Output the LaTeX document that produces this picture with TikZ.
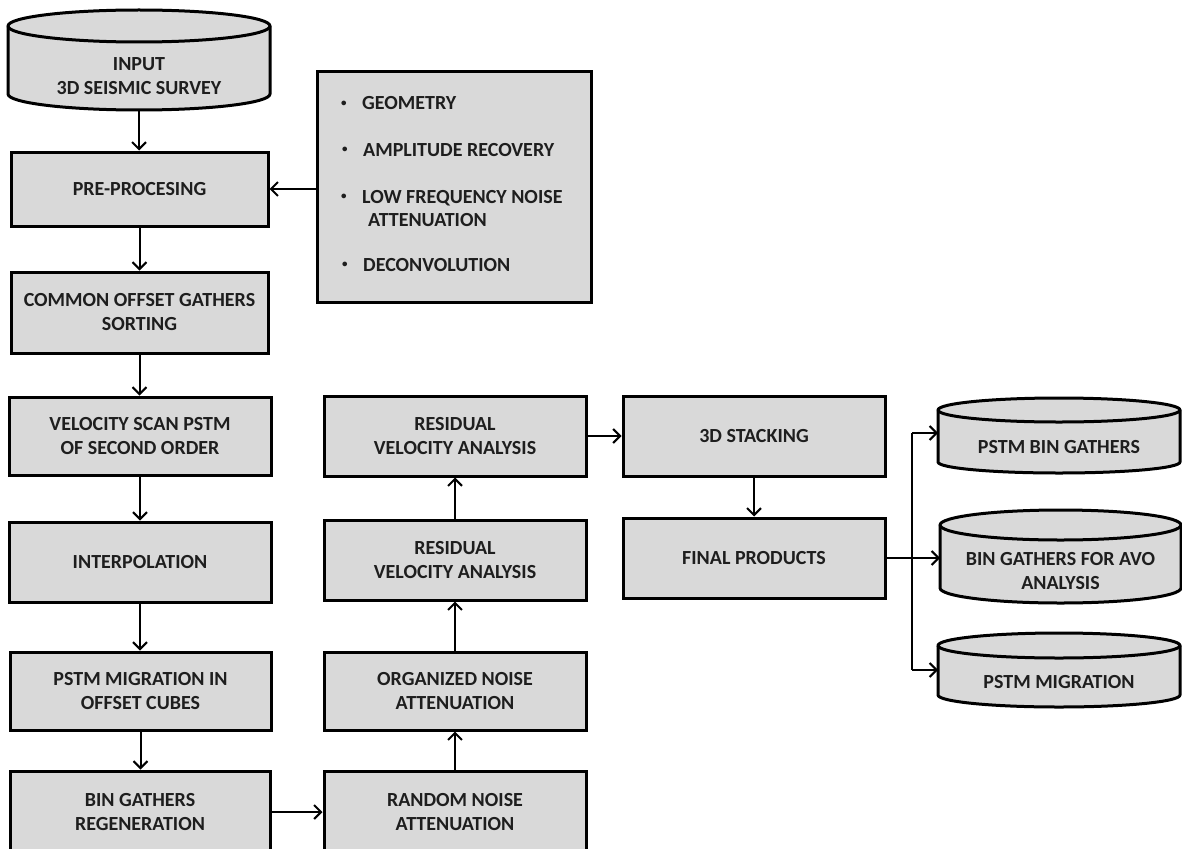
\documentclass[tikz,border=0pt]{standalone}
\usepackage{fontspec}
\setmainfont{Carlito}
\usetikzlibrary{arrows.meta}
\definecolor{boxfill}{HTML}{D9D9D9}
\definecolor{ink}{HTML}{1E1E1E}
\newcommand\bul{\makebox[21pt][l]{\raisebox{3.5pt}{\fontsize{11}{11}\selectfont\textbullet}}}
\newcommand\drumshape[6]{%
  \pgfmathsetmacro\drx{(#2-#1)/2}%
  \draw[cylbody] (#1,-#3) arc[start angle=180,end angle=0,x radius=\drx,y radius=#5]
     -- (#2,-#4) arc[start angle=0,end angle=-180,x radius=\drx,y radius=#6] -- cycle;
  \draw[line width=3pt] (#1,-#3) arc[start angle=180,end angle=360,x radius=\drx,y radius=#5];
}
\tikzset{
  txtfont/.style={font=\fontsize{20}{24}\selectfont\bfseries, text=ink},
  proc/.style={draw=black, fill=boxfill, line width=3pt, inner sep=0pt, align=center, txtfont},
  wh/.style 2 args={minimum width=#1, minimum height=#2},
  lbl/.style={inner sep=0pt, align=center, txtfont},
  cylbody/.style={fill=boxfill, draw=black, line width=3pt, line join=round},
  conn/.style={line width=2pt, draw=black},
  arr/.style={conn, -{Straight Barb[length=7pt,width=14pt]}},
}
\begin{document}
\begin{tikzpicture}[x=1pt,y=1pt]
\useasboundingbox (0,0) rectangle (1182,-848);

% input cylinder
\drumshape{8}{270}{26}{94}{16}{16}
\node[lbl] (input) at (139,-76) {INPUT\\3D SEISMIC SURVEY};
\coordinate (inB) at (139,-110);

% left column
\node[proc, wh={257pt}{74pt}] (pre) at (139.5,-189) {PRE-PROCESING};
\node[proc, wh={257pt}{81pt}] (common) at (139.5,-312.5) {COMMON OFFSET GATHERS\\SORTING};
\node[proc, wh={262pt}{78pt}] (vel) at (140,-436) {VELOCITY SCAN PSTM\\OF SECOND ORDER};
\node[proc, wh={262pt}{80pt}] (interp) at (140,-562) {INTERPOLATION};
\node[proc, wh={261pt}{78pt}] (mig) at (140.5,-691) {PSTM MIGRATION IN\\OFFSET CUBES};
\node[proc, wh={260pt}{82pt}] (bin) at (140,-812) {BIN GATHERS\\REGENERATION};

% list box
\node[proc, wh={274pt}{230pt}] (list) at (454,-187) {};
\node[lbl, anchor=base west] (l1) at (341,-109.8) {\bul GEOMETRY};
\node[lbl, anchor=base west] (l2) at (342,-156.4) {\bul AMPLITUDE RECOVERY};
\node[lbl, anchor=base west] (l3) at (341,-203.4) {\bul LOW FREQUENCY NOISE};
\node[lbl, anchor=base west] (l3b) at (368,-226.4) {ATTENUATION};
\node[lbl, anchor=base west] (l4) at (342,-271.4) {\bul DECONVOLUTION};

% middle column
\node[proc, wh={262pt}{80pt}] (res1) at (455,-436) {RESIDUAL\\VELOCITY ANALYSIS};
\node[proc, wh={262pt}{80pt}] (res2) at (455,-560) {RESIDUAL\\VELOCITY ANALYSIS};
\node[proc, wh={262pt}{78pt}] (org) at (455,-691) {ORGANIZED NOISE\\ATTENUATION};
\node[proc, wh={262pt}{82pt}] (rand) at (455,-812) {RANDOM NOISE\\ATTENUATION};

% right column
\node[proc, wh={262pt}{80pt}] (stack) at (754,-436) {3D STACKING};
\node[proc, wh={262pt}{80pt}] (final) at (754,-558) {FINAL PRODUCTS};

% output cylinders
\drumshape{938}{1180}{410}{462}{12}{11}
\node[lbl] (pbg) at (1059,-447.5) {PSTM BIN GATHERS};
\drumshape{940}{1181}{525}{588}{15}{15}
\node[lbl] (avo) at (1060.5,-571.5) {BIN GATHERS FOR AVO\\ANALYSIS};
\drumshape{938}{1180}{645.5}{695}{12.5}{12}
\node[lbl] (pmig) at (1059,-682.5) {PSTM MIGRATION};
\coordinate (pbgL) at (938,-433);
\coordinate (avoL) at (940,-558);
\coordinate (pmigL) at (938,-670);
\coordinate (split) at (912,-558);

% connectors
\draw[arr] (inB) -- (inB |- pre.north);
\draw[arr] (pre.east -| list.west) -- (pre.east);
\draw[arr] (pre.south) -- (common.north);
\draw[arr] (common.south) -- (common.south |- vel.north);
\draw[arr] (vel.south) -- (interp.north);
\draw[arr] (interp.south) -- (interp.south |- mig.north);
\draw[arr] (mig.south) -- (mig.south |- bin.north);
\draw[arr] (bin.east) -- (bin.east -| rand.west);
\draw[arr] (rand.north) -- (org.south);
\draw[arr] (org.north) -- (res2.south);
\draw[arr] (res2.north) -- (res1.south);
\draw[arr] (res1.east) -- (res1.east -| stack.west);
\draw[arr] (stack.south) -- (final.north);
\draw[arr] (final.east) -- (avoL);
\draw[conn] (split |- pbgL) -- (split |- pmigL);
\draw[arr] (split |- pbgL) -- (pbgL);
\draw[arr] (split |- pmigL) -- (pmigL);
\end{tikzpicture}
\end{document}
